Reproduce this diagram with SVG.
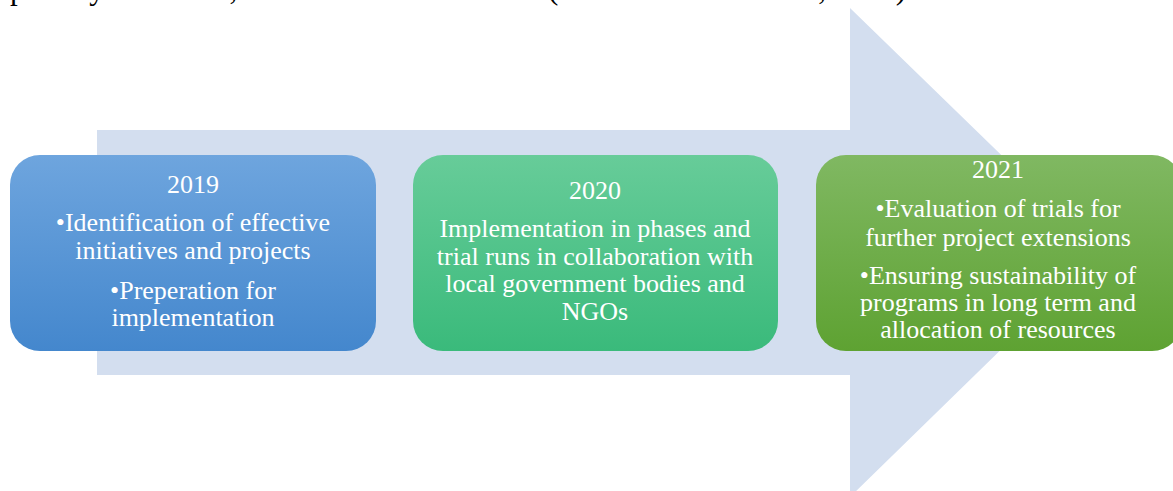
<svg xmlns="http://www.w3.org/2000/svg" width="1173" height="491" viewBox="0 0 1173 491">
  <defs>
    <linearGradient id="gBlue" x1="0" y1="0" x2="0" y2="1">
      <stop offset="0" stop-color="#6EA5DE"/>
      <stop offset="1" stop-color="#4487CD"/>
    </linearGradient>
    <linearGradient id="gTeal" x1="0" y1="0" x2="0" y2="1">
      <stop offset="0" stop-color="#67CC99"/>
      <stop offset="1" stop-color="#3ABA7B"/>
    </linearGradient>
    <linearGradient id="gGreen" x1="0" y1="0" x2="0" y2="1">
      <stop offset="0" stop-color="#80B862"/>
      <stop offset="1" stop-color="#5EA232"/>
    </linearGradient>
    <style>
      .body { font-family: "Liberation Serif", "Times New Roman", serif; font-size: 31px; fill: #000000; }
      .lbl { font-family: "Liberation Serif", "Times New Roman", serif; font-size: 26px; fill: #FFFFFF; text-anchor: middle; }
    </style>
  </defs>

  <!-- running text line above the figure, mostly above the top edge -->
  <text class="body" x="10" y="-1">poverty reduction, and health and nutrition (Government of India, 2019).</text>

  <!-- background timeline arrow -->
  <g id="connectors">
    <polygon points="97,130 850,130 850,8 1101,252 850,497 850,375 97,375" fill="#D3DEEF"/>
  </g>

  <g id="node-2019">
    <rect x="10" y="155" width="366" height="196" rx="30" ry="30" fill="url(#gBlue)"/>
    <text class="lbl" x="193" y="193">2019</text>
    <text class="lbl" x="193" y="231">•Identification of effective</text>
    <text class="lbl" x="193" y="259">initiatives and projects</text>
    <text class="lbl" x="193" y="299">•Preperation for</text>
    <text class="lbl" x="193" y="326">implementation</text>
  </g>

  <g id="node-2020">
    <rect x="413" y="155" width="365" height="196" rx="30" ry="30" fill="url(#gTeal)"/>
    <text class="lbl" x="595" y="199">2020</text>
    <text class="lbl" x="595" y="237">Implementation in phases and</text>
    <text class="lbl" x="595" y="265">trial runs in collaboration with</text>
    <text class="lbl" x="595" y="292">local government bodies and</text>
    <text class="lbl" x="595" y="320">NGOs</text>
  </g>

  <g id="node-2021">
    <rect x="816" y="155" width="366" height="196" rx="30" ry="30" fill="url(#gGreen)"/>
    <text class="lbl" x="998" y="178">2021</text>
    <text class="lbl" x="998" y="217">•Evaluation of trials for</text>
    <text class="lbl" x="998" y="246">further project extensions</text>
    <text class="lbl" x="998" y="284">•Ensuring sustainability of</text>
    <text class="lbl" x="998" y="311">programs in long term and</text>
    <text class="lbl" x="998" y="338">allocation of resources</text>
  </g>
</svg>
